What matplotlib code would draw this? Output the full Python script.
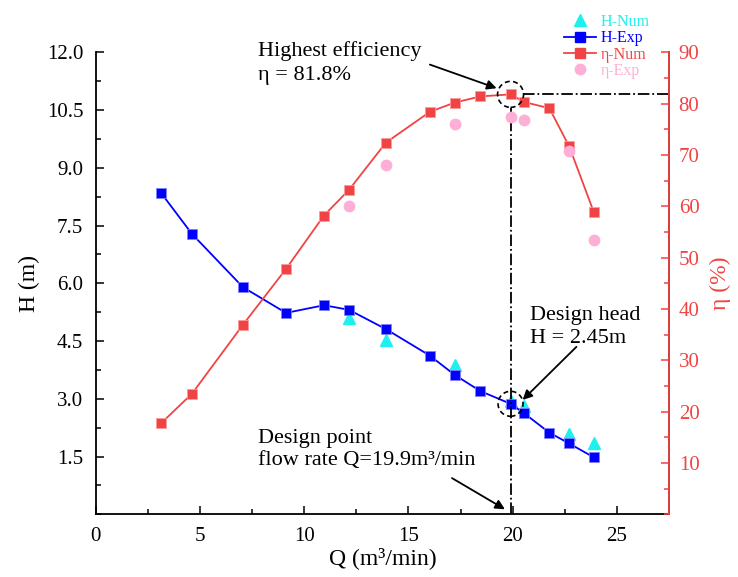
import matplotlib
matplotlib.use("Agg")
from matplotlib import pyplot as plt
import matplotlib.patches as mpatches
import matplotlib.transforms as mtransforms
from matplotlib.lines import Line2D
from matplotlib.ticker import MultipleLocator

plt.rcParams["font.family"] = ["Liberation Serif", "DejaVu Serif"]
plt.rcParams["mathtext.fontset"] = "stix"

# Flow rate points (m3/min)
q_exp = [3.13, 4.62, 7.06, 9.13, 10.95, 12.15, 13.92, 16.03, 17.22, 18.45,
         19.9, 20.56, 21.76, 22.71, 23.89]
# Head, experiment (m)
h_exp = [8.35, 7.28, 5.90, 5.23, 5.43, 5.31, 4.81, 4.12, 3.62, 3.20,
         2.87, 2.62, 2.12, 1.84, 1.48]
# Efficiency, numerical (%)
eta_num = [17.7, 23.5, 36.9, 47.8, 58.2, 63.2, 72.4, 78.4, 80.2, 81.4,
           81.8, 80.3, 79.1, 71.7, 58.9]

# Numerical head and experimental efficiency, sampled at fewer points
q_num = [12.15, 13.92, 17.22, 19.9, 20.56, 22.71, 23.89]
h_num = [5.10, 4.53, 3.87, 2.93, 2.81, 2.08, 1.85]
eta_exp = [60.1, 68.0, 76.1, 77.3, 76.8, 70.7, 53.5]

q_design = 19.9
h_design = 2.87
eta_best = 81.8

C_BLUE = "#0000ff"
C_CYAN = "#1ef0f0"
C_RED = "#f04444"
C_PINK = "#ffaed6"

fig = plt.figure(figsize=(7.38, 5.77), dpi=100)
ax = fig.add_axes([0.1297, 0.1087, 0.9065 - 0.1297, 0.9094 - 0.1087])
ax2 = ax.twinx()

# head curves (left axis)
ax.plot(q_num, h_num, linestyle="none", marker="^", ms=8.5, color=C_CYAN,
        mec=C_CYAN, label="H-Num", zorder=2)
ax.plot(q_exp, h_exp, "-s", color=C_BLUE, lw=1.3, ms=7, mec="#8080ff",
        mew=0.6, label="H-Exp", zorder=3)

# efficiency curves (right axis)
ax2.plot(q_exp, eta_num, "-s", color=C_RED, lw=1.3, ms=7, mec="#ff9a9a",
         mew=0.6, label="η-Num", zorder=2)
ax2.plot(q_num, eta_exp, linestyle="none", marker="o", ms=7.5, color=C_PINK,
         mec=C_PINK, label="η-Exp", zorder=3)

ax.set_xlim(0, 27.5)
ax.set_ylim(0, 12)
ax2.set_ylim(0, 90)

ax.xaxis.set_major_locator(MultipleLocator(5))
ax.xaxis.set_minor_locator(MultipleLocator(2.5))
ax.set_yticks([1.5, 3.0, 4.5, 6.0, 7.5, 9.0, 10.5, 12.0])
ax.yaxis.set_minor_locator(MultipleLocator(0.75))
ax2.set_yticks(range(10, 91, 10))
ax2.yaxis.set_minor_locator(MultipleLocator(5))

ax.tick_params(axis="both", which="major", direction="in", length=6, width=1.1,
               labelsize=15)
ax.tick_params(axis="both", which="minor", direction="in", length=3.5, width=1.1)
ax.tick_params(axis="y", pad=9)
ax.tick_params(axis="x", pad=9)
ax.tick_params(axis="x", which="both", top=False)
ax2.tick_params(axis="y", which="major", direction="in", length=6, width=1.1,
                labelsize=15, colors=C_RED, pad=7)
ax2.tick_params(axis="y", which="minor", direction="in", length=3.5, width=1.1,
                colors=C_RED)

for a in (ax, ax2):
    a.spines["top"].set_visible(False)
    for s in a.spines.values():
        s.set_linewidth(1.3)
ax2.spines["right"].set_color(C_RED)
ax2.spines["left"].set_visible(False)
ax2.spines["bottom"].set_visible(False)

ax.set_xlabel("Q (m³/min)", fontsize=17, labelpad=1)
ax.set_ylabel("H (m)", fontsize=17, labelpad=5)
ax2.set_ylabel("η (%)", fontsize=17, color=C_RED, labelpad=7)

# guide lines through the design point and the efficiency peak
ax2.plot([q_design, q_design], [0, eta_best - 2.6], color="black", lw=1.3,
         ls="-.", zorder=1)
ax2.plot([q_design + 0.62, 27.5], [eta_best, eta_best], color="black", lw=1.3,
         ls="-.", zorder=1, clip_on=False)


def ring(axis, x, y, r_px=13):
    # dashed circle of fixed pixel radius centred on a data point
    r_in = r_px / fig.dpi
    tr = fig.dpi_scale_trans + mtransforms.ScaledTranslation(x, y, axis.transData)
    c = mpatches.Circle((0, 0), r_in, transform=tr, fill=False, ec="black",
                        lw=1.2, ls=(0, (3, 2)), zorder=5)
    axis.add_patch(c)


ring(ax2, q_design, eta_best)
ring(ax, q_design, h_design, 12.5)

arrow = dict(arrowstyle="-|>", color="black", lw=1.3, mutation_scale=14,
             shrinkA=0, shrinkB=0)

ax2.text(7.78, 87.9, "Highest efficiency\nη = 81.8%", fontsize=16,
         va="center", ha="left", linespacing=1.3)
ax2.annotate("", xy=(19.23, 83.0), xytext=(16.03, 87.6), arrowprops=arrow)

ax.text(20.83, 4.86, "Design head\nH = 2.45m", fontsize=16, va="center",
        ha="left", linespacing=1.3)
ax.annotate("", xy=(20.48, 2.97), xytext=(23.06, 4.35), arrowprops=arrow)

ax.text(7.78, 1.68, "Design point\nflow rate Q=19.9m³/min", fontsize=16,
        va="center", ha="left", linespacing=1.25)
ax.annotate("", xy=(19.63, 0.13), xytext=(17.09, 0.94), arrowprops=arrow)

handles = [
    Line2D([0], [0], ls="none", marker="^", ms=8.5, color=C_CYAN),
    Line2D([0], [0], color=C_BLUE, lw=1.3, marker="s", ms=7),
    Line2D([0], [0], color=C_RED, lw=1.3, marker="s", ms=7),
    Line2D([0], [0], ls="none", marker="o", ms=7.5, color=C_PINK),
]
labels = ["H-Num", "H-Exp", "η-Num", "η-Exp"]
leg = fig.legend(handles, labels, loc="upper left",
                 bbox_to_anchor=(564 / 738, 1 - 14 / 577), frameon=False,
                 fontsize=11.5, labelspacing=0.02, handlelength=2.0,
                 handletextpad=0.3, borderpad=0, borderaxespad=0)
for t, c in zip(leg.get_texts(), [C_CYAN, C_BLUE, C_RED, C_PINK]):
    t.set_color(c)

fig.savefig("out.png", dpi=100)
